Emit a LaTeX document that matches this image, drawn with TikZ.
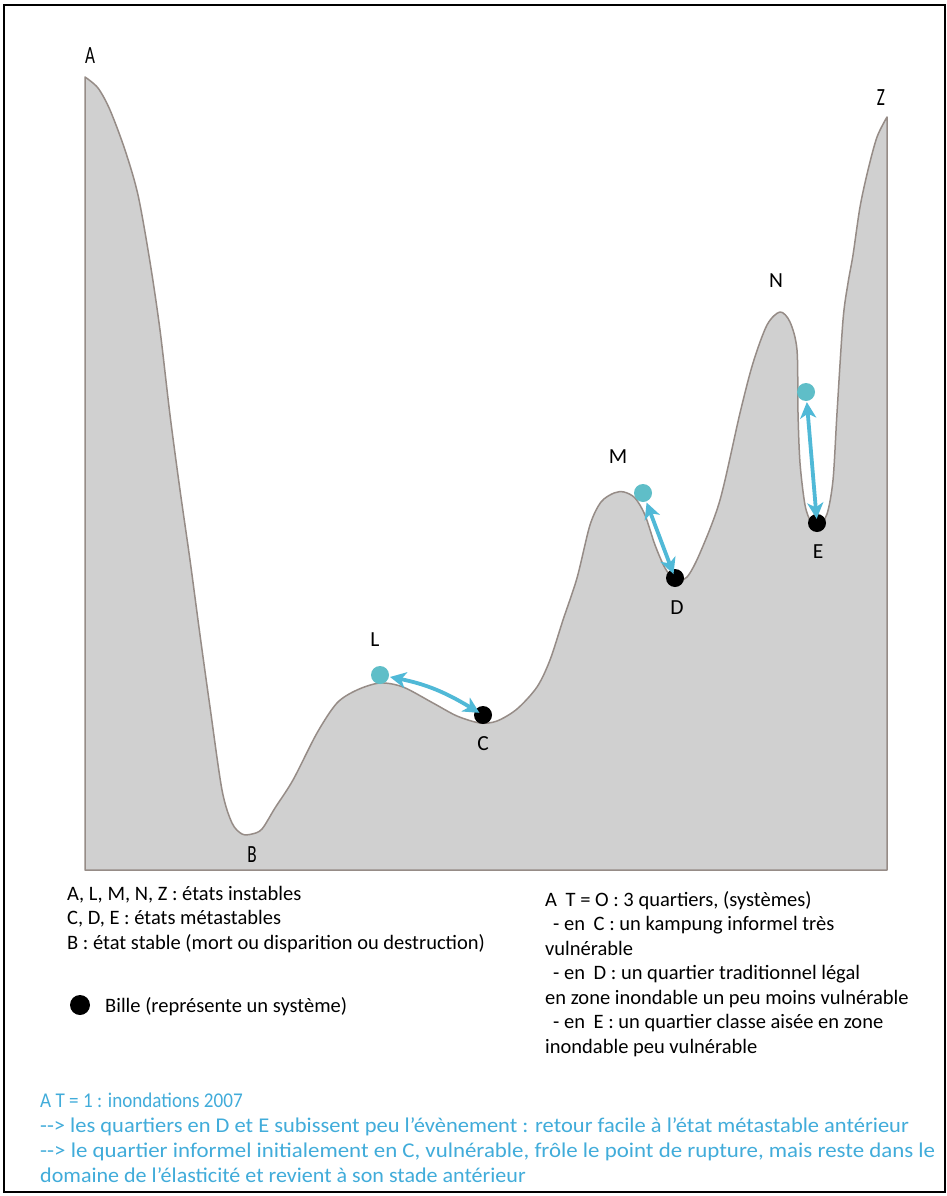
\documentclass[tikz,border=0pt]{standalone}
\usepackage{fontspec}
\setmainfont{Carlito}
\usetikzlibrary{arrows.meta}
\definecolor{hill}{RGB}{208,208,208}
\definecolor{hillline}{RGB}{150,140,135}
\definecolor{balltop}{RGB}{95,190,200}
\definecolor{arrowc}{RGB}{80,185,215}
\definecolor{bluetxt}{RGB}{65,172,218}
\tikzset{
  lbl/.style={inner sep=0pt, font=\fontsize{21.5}{24}\selectfont},
  blk/.style={circle, fill=black, minimum size=18pt, inner sep=0pt},
  cyn/.style={circle, fill=balltop, minimum size=18pt, inner sep=0pt},
  move/.style={draw=arrowc, line width=3.8pt, {Stealth[length=16pt,width=16pt,inset=4.5pt]}-{Stealth[length=16pt,width=16pt,inset=4.5pt]}},
  legtxt/.style={anchor=base west, inner sep=0pt, font=\fontsize{20.5}{24}\selectfont},
  bluet/.style={anchor=base west, inner sep=0pt, text=bluetxt, font=\fontsize{21}{24}\selectfont}
}
\begin{document}
\begin{tikzpicture}[x=1pt,y=-1pt]
\useasboundingbox (0,0) rectangle (947,1196);
\fill[white] (0,0) rectangle (947,1196);
\draw[line width=2pt] (4,5) rectangle (945,1192);
% landscape
\draw[fill=hill, draw=hillline, line width=1.5pt, line join=round]
  plot[smooth, tension=0.5] coordinates {
  (85,77) (98,88) (110,110) (125,150) (138,195) (150,262) (160,330) (170,415)
  (180,490) (190,560) (200,635) (210,707) (222,790) (232,823) (242,834) (252,834)
  (262,829) (275,808) (293,780) (317,733) (337,703) (357,690) (380,683) (403,687)
  (433,703) (457,716) (480,723) (497,721) (517,709) (537,687) (550,660) (563,620)
  (577,578) (590,525) (601,502) (614,493) (624,492) (635,498) (645,515) (655,545) (665,568)
  (675,580) (687,577) (700,553) (720,500) (740,413) (753,363) (767,325) (780,312)
  (790,322) (797,350) (798,413) (800,463) (805,505) (811,522) (818,526) (827,514)
  (833,480) (837,413) (843,320) (848,283) (853,255) (860,207) (868,170) (877,137) (887,117)}
  -- (887,870) -- (85,870) -- cycle;
% labels
\node[lbl] (lA) at (90,56) {\scalebox{0.8}[1.15]{A}};
\node[lbl] (lZ) at (881,98) {\scalebox{0.8}[1.15]{Z}};
\node[lbl] (lB) at (252,855) {\scalebox{0.8}[1.15]{B}};
\node[lbl] (lN) at (776,281) {N};
\node[lbl] (lM) at (618,457) {M};
\node[lbl] (lL) at (375,640) {L};
\node[lbl] (lC) at (483,744) {C};
\node[lbl] (lD) at (677,608) {D};
\node[lbl] (lE) at (818,552) {E};
% balls
\node[cyn] (bL) at (380,675) {};
\node[blk] (bC) at (483,715) {};
\node[cyn] (bM) at (643,493) {};
\node[blk] (bD) at (675,578) {};
\node[cyn] (bN) at (806,392) {};
\node[blk] (bE) at (817,523) {};
% movements
\draw[move, shorten <=1pt, shorten >=-5pt] (bL) to[bend left=10] (bC);
\draw[move, shorten <=1pt, shorten >=-5pt] (bM) -- (bD);
\draw[move, shorten <=1pt, shorten >=-5pt] (bN) -- (bE);
% legend left
\node[legtxt] (g1) at (67,900) {A, L, M, N, Z : états instables};
\node[legtxt] (g2) at (67,924.5) {C, D, E : états métastables};
\node[legtxt] (g3) at (67,949) {B : état stable (mort ou disparition ou destruction)};
\node[blk, minimum size=20pt] (gb) at (80,1005) {};
\node[legtxt] (g4) at (105,1012) {Bille (représente un système)};
% legend right
\node[legtxt] (r1) at (545,906) {A\hspace{4pt} T = O : 3 quartiers, (systèmes)};
\node[legtxt] (r2) at (545,930.5) {\hspace{8pt}- en\hspace{4pt} C : un kampung informel très};
\node[legtxt] (r3) at (545,955) {vulnérable};
\node[legtxt] (r4) at (545,979.5) {\hspace{8pt}- en\hspace{4pt} D : un quartier traditionnel légal};
\node[legtxt] (r5) at (545,1004) {en zone inondable un peu moins vulnérable};
\node[legtxt] (r6) at (545,1028.5) {\hspace{8pt}- en\hspace{4pt} E : un quartier classe aisée en zone};
\node[legtxt] (r7) at (545,1053) {inondable peu vulnérable};
% blue text
\node[bluet] (t1) at (40,1107) {\scalebox{0.91}[1]{A T = 1 : inondations 2007}};
\node[bluet] (t2) at (40,1132) {\scalebox{1.07}[1]{-{}-> les quartiers en D et E subissent peu l'évènement : retour facile à l'état métastable antérieur}};
\node[bluet] (t3) at (40,1157) {\scalebox{1.09}[1]{-{}-> le quartier informel initialement en C, vulnérable, frôle le point de rupture, mais reste dans le}};
\node[bluet] (t4) at (40,1182) {\scalebox{1.05}[1]{domaine de l'élasticité et revient à son stade antérieur}};
\end{tikzpicture}
\end{document}
